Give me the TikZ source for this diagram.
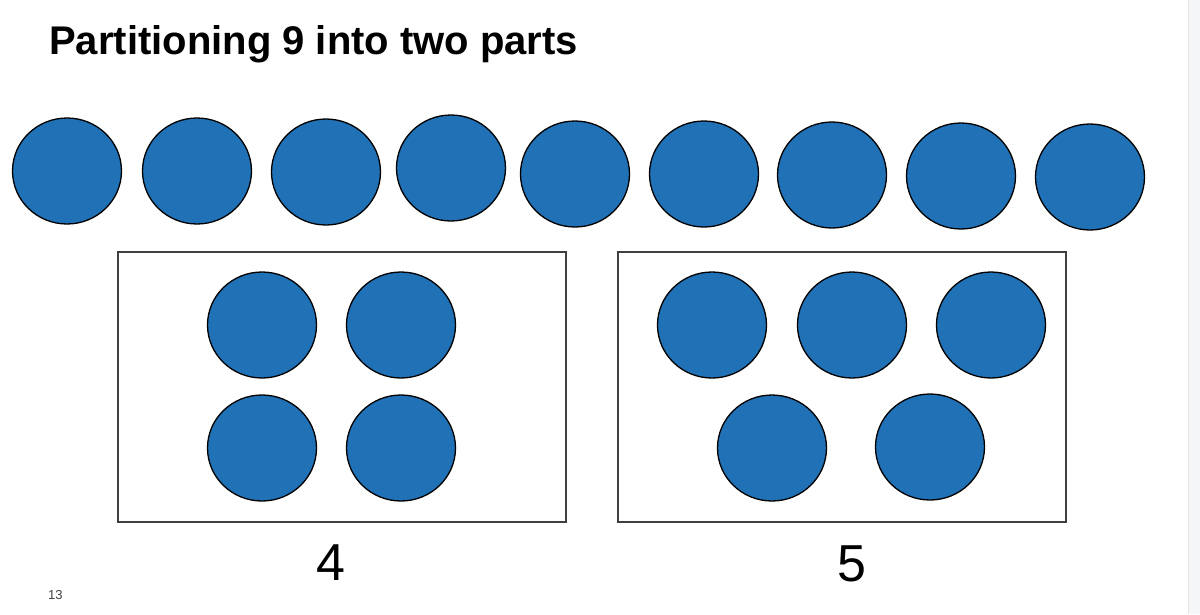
\documentclass[tikz,border=0pt]{standalone}
\usepackage{fontspec}
\setmainfont{Liberation Sans}
\usetikzlibrary{shapes.geometric}
\definecolor{dotblue}{RGB}{32,113,182}
\definecolor{boxgray}{RGB}{64,64,64}
\definecolor{stripgray}{RGB}{245,246,248}
\definecolor{stripedge}{RGB}{228,230,233}
\tikzset{
  dot/.style={ellipse, draw=black, line width=1.3pt, fill=dotblue,
    minimum width=109pt, minimum height=106pt, inner sep=0pt},
  partbox/.style={draw=boxgray, line width=1.5pt, fill=white},
  title/.style={anchor=base west, inner sep=0pt, font=\fontsize{40}{48}\selectfont\bfseries},
  bignum/.style={anchor=base, inner sep=0pt, font=\fontsize{52}{60}\selectfont},
  pagenum/.style={anchor=base west, inner sep=0pt, text=boxgray, font=\fontsize{13}{15}\selectfont}
}
\begin{document}
\begin{tikzpicture}[x=1pt,y=-1pt]
\useasboundingbox (0,0) rectangle (1200,614);
\fill[white] (0,0) rectangle (1200,614);
\fill[stripgray] (1188,0) rectangle (1200,614);
\draw[stripedge, line width=0.8pt] (1188,0) -- (1188,614);
% title
\node[title] (ttl) at (49,54) {Partitioning 9 into two parts};
% top row
\node[dot] (t1) at (67,171) {};
\node[dot] (t2) at (197,171) {};
\node[dot] (t3) at (326,172) {};
\node[dot] (t4) at (451,168) {};
\node[dot] (t5) at (575,174) {};
\node[dot] (t6) at (704,174) {};
\node[dot] (t7) at (832,175) {};
\node[dot] (t8) at (961,176) {};
\node[dot] (t9) at (1090,177) {};
% boxes
\draw[partbox] (118,252) rectangle (566,522);
\draw[partbox] (618,252) rectangle (1066,522);
\coordinate (boxA) at (342,387);
\coordinate (boxB) at (842,387);
% box A dots
\node[dot] (a1) at (262,325) {};
\node[dot] (a2) at (401,325) {};
\node[dot] (a3) at (262,448) {};
\node[dot] (a4) at (401,448) {};
% box B dots
\node[dot] (b1) at (712,325) {};
\node[dot] (b2) at (852,325) {};
\node[dot] (b3) at (991,325) {};
\node[dot] (b4) at (772,448) {};
\node[dot] (b5) at (930,447) {};
% labels
\node[bignum] (n4) at (331,580) {4};
\node[bignum] (n5) at (852,581) {5};
\node[pagenum] (pg) at (48,599) {13};
\end{tikzpicture}
\end{document}
